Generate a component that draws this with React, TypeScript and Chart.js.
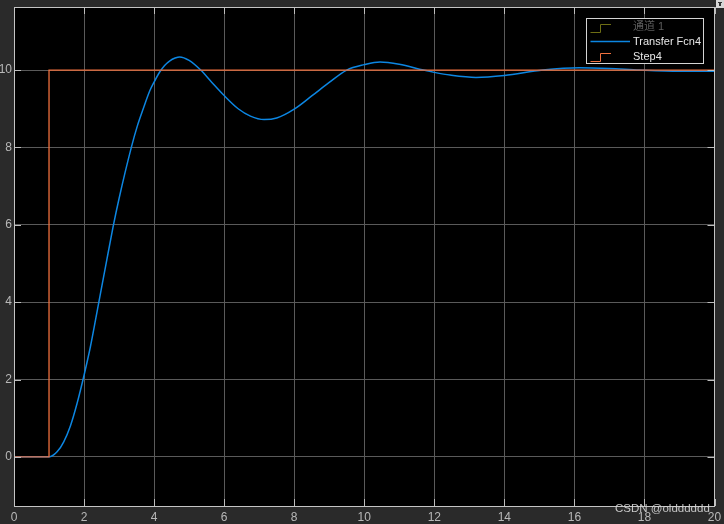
import React, { useEffect, useRef } from "react";
import { Chart, registerables } from "chart.js";

Chart.register(...registerables);

// ---- Data ----
const stepTimes = [0, 1, 1, 20];
const stepValues = [0, 0, 10, 10];

const responseTimes = [
  0, 1, 1.23, 1.42, 1.61, 1.8, 2.0, 2.18, 2.42, 2.62, 2.83, 3.0, 3.35, 3.52, 3.69, 3.88, 4.0, 4.16, 4.3,
  4.45, 4.6, 4.73, 5.0, 5.33, 5.65, 6.0, 6.4, 6.75, 7.14, 7.5, 8.0, 8.5, 9.0, 9.5, 10.0, 10.45, 11.0,
  11.69, 12.0, 12.45, 13.19, 14.0, 15.1, 16.14, 17.0, 17.86, 19.0, 20.0,
];
const responseValues = [
  0, 0, 0.13, 0.39, 0.8, 1.38, 2.11, 2.84, 3.99, 4.95, 5.95, 6.68, 8.0, 8.55, 9.0, 9.47, 9.69, 9.95, 10.12,
  10.24, 10.31, 10.34, 10.25, 10.0, 9.68, 9.34, 9.0, 8.81, 8.72, 8.76, 8.99, 9.33, 9.68, 10.0, 10.14,
  10.21, 10.15, 10.0, 9.94, 9.87, 9.81, 9.86, 10.0, 10.06, 10.04, 10.0, 9.97, 9.97,
];

const xTicks = [0, 2, 4, 6, 8, 10, 12, 14, 16, 18, 20];
const yTicks = [0, 2, 4, 6, 8, 10];

const legendLabels = ["通道 1", "Transfer Fcn4", "Step4"];
const watermark = "CSDN @oldddddd";

const FONT = "'Liberation Sans', Arial, 'Noto Sans CJK SC', sans-serif";
const BLUE = "#0c86e2";
const ORANGE = "#f0703e";
const OLIVE = "#6e6e14";

const decoPlugin = {
  id: "deco",
  beforeDraw(chart: any) {
    const { ctx, chartArea: a, width, height } = chart;
    ctx.save();
    ctx.fillStyle = "#2a2a2a";
    ctx.fillRect(0, 0, width, height);
    ctx.fillStyle = "#000000";
    ctx.fillRect(a.left, a.top, a.right - a.left, a.bottom - a.top);
    ctx.restore();
  },
  afterDraw(chart: any) {
    const { ctx, chartArea: a, scales } = chart;
    const xs = scales.x;
    const ys = scales.y;
    ctx.save();
    // inward tick marks
    ctx.strokeStyle = "#bdbdbd";
    ctx.lineWidth = 1;
    const L = 7;
    ctx.beginPath();
    xTicks.forEach((v) => {
      const px = Math.round(xs.getPixelForValue(v)) + 0.5;
      ctx.moveTo(px, a.bottom);
      ctx.lineTo(px, a.bottom - L);
      ctx.moveTo(px, a.top);
      ctx.lineTo(px, a.top + L);
    });
    yTicks.forEach((v) => {
      const py = Math.round(ys.getPixelForValue(v)) + 0.5;
      ctx.moveTo(a.left, py);
      ctx.lineTo(a.left + L, py);
      ctx.moveTo(a.right, py);
      ctx.lineTo(a.right - L, py);
    });
    ctx.stroke();

    // box
    ctx.strokeStyle = "#c4c4c4";
    const l = Math.floor(a.left) + 0.5;
    const r = Math.floor(a.right) + 0.5;
    const t = Math.floor(a.top) + 0.5;
    const b = Math.floor(a.bottom) + 0.5;
    ctx.strokeRect(l, t, r - l, b - t);

    // legend
    const lx = 586.5, ly = 18.5, lw = 117, lh = 45;
    ctx.fillStyle = "#000000";
    ctx.fillRect(lx, ly, lw, lh);
    ctx.strokeStyle = "#d4d4d4";
    ctx.strokeRect(lx, ly, lw, lh);

    const drawStep = (color: string, yLow: number, yHigh: number) => {
      ctx.strokeStyle = color;
      ctx.lineWidth = 1;
      ctx.beginPath();
      ctx.moveTo(590.5, yLow);
      ctx.lineTo(600.5, yLow);
      ctx.lineTo(600.5, yHigh);
      ctx.lineTo(611, yHigh);
      ctx.stroke();
    };
    drawStep(OLIVE, 32.5, 24.5);
    ctx.strokeStyle = BLUE;
    ctx.lineWidth = 1.5;
    ctx.beginPath();
    ctx.moveTo(590.5, 41.5);
    ctx.lineTo(630, 41.5);
    ctx.stroke();
    drawStep(ORANGE, 61.5, 53.5);

    ctx.font = `11px ${FONT}`;
    ctx.textBaseline = "middle";
    ctx.textAlign = "left";
    ctx.fillStyle = "#5c5c5c";
    ctx.fillText(legendLabels[0], 633, 27);
    ctx.fillStyle = "#e6e6e6";
    ctx.fillText(legendLabels[1], 633, 41.5);
    ctx.fillText(legendLabels[2], 633, 57);

    // top-right icon
    ctx.fillStyle = "#d6d6d6";
    ctx.fillRect(716, 0, 8, 8);
    ctx.fillStyle = "#333";
    ctx.fillRect(718, 2, 4, 1);
    ctx.fillRect(719, 3, 2, 3);

    // watermark
    ctx.font = `11.5px ${FONT}`;
    ctx.fillStyle = "rgba(215,215,215,0.9)";
    ctx.textAlign = "left";
    ctx.textBaseline = "middle";
    ctx.fillText(watermark, 615, 509);
    ctx.restore();
  },
};

export default function App() {
  const ref = useRef<HTMLCanvasElement | null>(null);
  useEffect(() => {
    if (!ref.current) return;
    const chart = new Chart(ref.current, {
      type: "line",
      data: {
        datasets: [
          {
            label: legendLabels[2],
            data: stepTimes.map((x, i) => ({ x, y: stepValues[i] })),
            borderColor: ORANGE,
            borderWidth: 1.3,
            pointRadius: 0,
            tension: 0,
          },
          {
            label: legendLabels[1],
            data: responseTimes.map((x, i) => ({ x, y: responseValues[i] })),
            borderColor: BLUE,
            borderWidth: 1.5,
            pointRadius: 0,
            cubicInterpolationMode: "monotone",
          },
        ],
      },
      options: {
        responsive: false,
        animation: false,
        events: [],
        layout: { padding: { top: 7, right: 9.5, left: 0, bottom: 0 } },
        plugins: { legend: { display: false }, tooltip: { enabled: false } },
        scales: {
          x: {
            type: "linear",
            min: 0,
            max: 20,
            afterBuildTicks: (s: any) => {
              s.ticks = xTicks.map((v) => ({ value: v }));
            },
            afterFit: (s: any) => {
              s.height = 18;
              s.paddingLeft = 0;
              s.paddingRight = 0;
            },
            grid: { color: "#5a5a5a", drawTicks: false, lineWidth: 1 },
            border: { display: false },
            ticks: {
              autoSkip: false,
              maxRotation: 0,
              padding: 4,
              color: "#b8b8b8",
              font: { family: FONT, size: 12 },
            },
          },
          y: {
            type: "linear",
            min: -1.27,
            max: 11.63,
            afterBuildTicks: (s: any) => {
              s.ticks = yTicks.map((v) => ({ value: v }));
            },
            afterFit: (s: any) => {
              s.width = 14;
              s.paddingTop = 0;
              s.paddingBottom = 0;
            },
            grid: { color: "#5a5a5a", drawTicks: false, lineWidth: 1 },
            border: { display: false },
            ticks: {
              padding: 2,
              color: "#b8b8b8",
              font: { family: FONT, size: 12 },
            },
          },
        },
      },
      plugins: [decoPlugin],
    } as any);
    return () => chart.destroy();
  }, []);
  return (
    <div style={{ position: "absolute", left: 0, top: 0, width: 724, height: 524, background: "#2a2a2a" }}>
      <canvas ref={ref} width={724} height={524} style={{ display: "block" }} />
    </div>
  );
}
